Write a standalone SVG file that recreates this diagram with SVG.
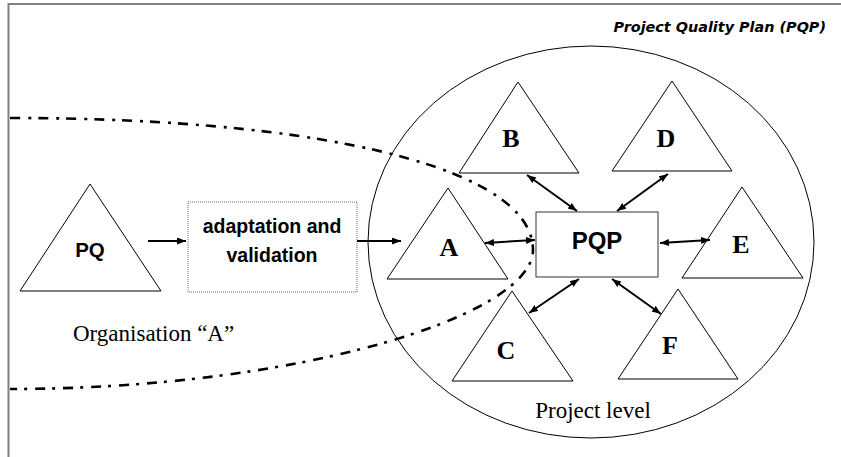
<svg xmlns="http://www.w3.org/2000/svg" width="841" height="457" viewBox="0 0 841 457">
  <style>
    .tri { fill: none; stroke: #000; stroke-width: 1; }
    .letter { font-family: "Liberation Serif", "Times New Roman", serif; font-weight: bold; font-size: 26px; text-anchor: middle; fill: #000; }
    .label { font-family: "Liberation Serif", "Times New Roman", serif; font-size: 23px; fill: #000; }
    .sans { font-family: "Liberation Sans", Arial, sans-serif; font-weight: bold; text-anchor: middle; fill: #000; }
    .link { fill: none; stroke: #000; stroke-width: 2; }
    .boundary { fill: none; stroke: #000; stroke-width: 2.6; stroke-dasharray: 10 8 3 7; }
  </style>
  <defs>
    <marker id="head" markerUnits="userSpaceOnUse" markerWidth="10" markerHeight="8" refX="9" refY="3.5" orient="auto-start-reverse">
      <path d="M0,0 L9,3.5 L0,7 z" fill="#000"/>
    </marker>
  </defs>

  <rect width="841" height="457" fill="#fff"/>
  <!-- frame -->
  <path d="M8.5,457 V4 H841" fill="none" stroke="#808080" stroke-width="2"/>

  <text x="826" y="32" text-anchor="end" font-family="'DejaVu Sans', Verdana, sans-serif" font-weight="bold" font-style="italic" font-size="14.4">Project Quality Plan (PQP)</text>

  <!-- project level scope -->
  <g id="project-level">
    <ellipse cx="591" cy="242" rx="223" ry="196" fill="none" stroke="#000" stroke-width="1"/>
    <text class="label" x="593" y="418" text-anchor="middle">Project level</text>
  </g>

  <!-- organisation boundary -->
  <g id="organisation">
    <path class="boundary" d="M10,118 C330,118 533,170 533,250 C533,315 300,389 10,389"/>
    <text class="label" x="73" y="341">Organisation “A”</text>
  </g>

  <g id="node-pq">
    <polygon class="tri" points="90,184 20,291 161,291"/>
    <text class="sans" x="90" y="257" font-size="20.5">PQ</text>
  </g>

  <g id="node-adaptation">
    <rect x="188" y="202" width="169" height="90" fill="none" stroke="#666" stroke-width="1" stroke-dasharray="1 1"/>
    <text class="sans" x="272" y="233" font-size="19.5">adaptation and</text>
    <text class="sans" x="272" y="262" font-size="19.5">validation</text>
  </g>

  <g id="node-pqp">
    <rect x="536" y="212" width="122" height="65" fill="#fff" stroke="#333" stroke-width="1"/>
    <text class="sans" x="597" y="249" font-size="24">PQP</text>
  </g>

  <g id="node-a">
    <polygon class="tri" points="448,188 387,279 508,279"/>
    <text class="letter" x="449" y="256">A</text>
  </g>
  <g id="node-b">
    <polygon class="tri" points="518,82 459,173 579,173"/>
    <text class="letter" x="511" y="147">B</text>
  </g>
  <g id="node-c">
    <polygon class="tri" points="512,291 452,381 573,381"/>
    <text class="letter" x="506" y="359">C</text>
  </g>
  <g id="node-d">
    <polygon class="tri" points="672,81 612,171 732,171"/>
    <text class="letter" x="666" y="147">D</text>
  </g>
  <g id="node-e">
    <polygon class="tri" points="742,187 682,278 803,278"/>
    <text class="letter" x="741" y="253">E</text>
  </g>
  <g id="node-f">
    <polygon class="tri" points="678,289 618,379 738,379"/>
    <text class="letter" x="670" y="354">F</text>
  </g>

  <g id="connectors">
    <line class="link" x1="148" y1="241" x2="186" y2="241" marker-end="url(#head)"/>
    <line class="link" x1="357" y1="241" x2="401" y2="241" marker-end="url(#head)"/>
    <line class="link" x1="485" y1="243" x2="535" y2="240" marker-start="url(#head)" marker-end="url(#head)"/>
    <line class="link" x1="660" y1="243" x2="710" y2="240" marker-start="url(#head)" marker-end="url(#head)"/>
    <line class="link" x1="527" y1="175" x2="577" y2="211" marker-start="url(#head)" marker-end="url(#head)"/>
    <line class="link" x1="668" y1="174" x2="617" y2="211" marker-start="url(#head)" marker-end="url(#head)"/>
    <line class="link" x1="529" y1="313" x2="579" y2="279" marker-start="url(#head)" marker-end="url(#head)"/>
    <line class="link" x1="612" y1="279" x2="661" y2="314" marker-start="url(#head)" marker-end="url(#head)"/>
  </g>
</svg>
